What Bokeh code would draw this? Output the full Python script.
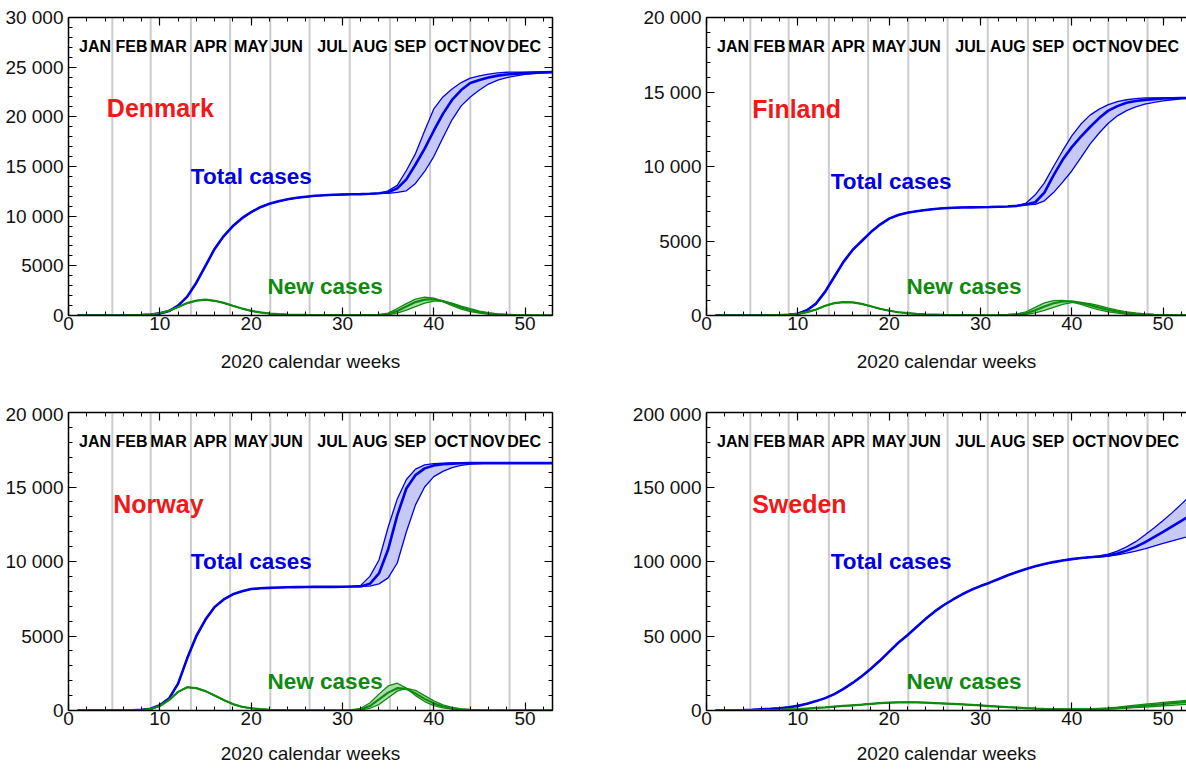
from bokeh.plotting import figure
from bokeh.layouts import column, row
from bokeh.models import (LinearAxis, Range1d, SingleIntervalTicker, Span, Label,
                          CustomJSTickFormatter, ColumnDataSource)
from bokeh.core.properties import value
from bokeh.embed import file_html
from bokeh.resources import INLINE

# ---------------- data ----------------
WEEKS = list(range(1, 54))
MONTHS = ["JAN", "FEB", "MAR", "APR", "MAY", "JUN", "JUL", "AUG", "SEP", "OCT", "NOV", "DEC"]
MONTH_LABEL_X = [2.9, 6.9, 10.95, 15.5, 20.0, 23.9, 28.9, 33.0, 37.4, 41.9, 45.9, 49.9]
MONTH_LINES = [4.8, 9.0, 13.4, 17.7, 22.1, 26.4, 30.8, 35.2, 39.6, 44.0, 48.3]

DK_TOTAL = [0, 0, 0, 0, 0, 10, 20, 50, 100, 200,
            450, 1000, 1900, 3300, 5000, 6700, 8000, 9000, 9800, 10400,
            10900, 11250, 11500, 11700, 11850, 11950, 12050, 12100, 12150, 12180,
            12200, 12220, 12250, 12300, 12400, 12800, 13700, 15200, 16800, 18600,
            20300, 21700, 22700, 23400, 23700, 23950, 24150, 24260, 24350, 24400,
            24450, 24480, 24500]
DK_TOTAL_HI = DK_TOTAL[:34] + [12550, 13100, 14600, 16300, 18600, 20800, 22000, 22800, 23450, 23900,
                               24130, 24300, 24420, 24490, 24500, 24500, 24500, 24500, 24500]
DK_TOTAL_LO = DK_TOTAL[:34] + [12300, 12400, 12550, 13300, 14500, 16000, 17900, 19700, 21100, 22000,
                               22700, 23300, 23700, 23950, 24130, 24270, 24350, 24430, 24480]
DK_NEW = [0, 0, 0, 0, 5, 10, 20, 40, 100, 250,
          480, 850, 1250, 1500, 1590, 1480, 1270, 980, 700, 460,
          310, 200, 140, 100, 70, 55, 45, 40, 35, 30,
          30, 30, 35, 50, 150, 450, 900, 1350, 1600, 1650,
          1450, 1150, 800, 550, 330, 200, 120, 70, 40, 25,
          15, 10, 5]
DK_NEW_HI = DK_NEW[:32] + [40, 80, 250, 700, 1200, 1650, 1850, 1750, 1400, 1000, 650,
                           400, 240, 140, 80, 50, 30, 20, 10, 10, 5]
DK_NEW_LO = DK_NEW[:32] + [30, 30, 80, 250, 550, 900, 1250, 1450, 1450, 1250, 950,
                           680, 450, 280, 170, 100, 60, 35, 20, 10, 5]

FI_TOTAL = [0, 0, 0, 0, 0, 0, 5, 20, 50, 120,
            350, 800, 1600, 2600, 3600, 4400, 5000, 5600, 6100, 6500,
            6750, 6900, 7000, 7080, 7150, 7200, 7230, 7250, 7260, 7270,
            7280, 7300, 7320, 7360, 7450, 7600, 8250, 9400, 10450, 11300,
            12000, 12650, 13250, 13750, 14050, 14280, 14400, 14470, 14520, 14560,
            14580, 14600, 14600]
FI_TOTAL_HI = FI_TOTAL[:34] + [7550, 8100, 8900, 10000, 11060, 12050, 12850, 13450, 13850, 14150,
                               14350, 14480, 14560, 14600, 14610, 14610, 14610, 14610, 14610]
FI_TOTAL_LO = FI_TOTAL[:34] + [7420, 7460, 7700, 8250, 8950, 9700, 10600, 11500, 12250, 12900,
                               13400, 13750, 14000, 14180, 14300, 14400, 14480, 14540, 14580]
FI_NEW = [0, 0, 0, 0, 0, 5, 10, 20, 40, 100,
          230, 400, 650, 830, 900, 880, 780, 620, 450, 320,
          220, 160, 110, 80, 60, 40, 30, 25, 20, 15,
          15, 20, 40, 80, 150, 350, 600, 820, 940, 950,
          850, 700, 530, 380, 260, 170, 110, 70, 45, 30,
          20, 15, 10]
FI_NEW_HI = FI_NEW[:32] + [50, 110, 250, 550, 850, 1000, 1020, 920, 750, 550, 380,
                           250, 160, 100, 60, 40, 25, 15, 10, 8, 5]
FI_NEW_LO = FI_NEW[:32] + [30, 50, 80, 180, 350, 550, 750, 870, 880, 800, 660,
                           500, 360, 250, 170, 110, 70, 45, 30, 20, 12]

NO_TOTAL = [0, 0, 0, 0, 0, 0, 10, 40, 120, 350,
            800, 1800, 3500, 5000, 6100, 6950, 7450, 7800, 8000, 8150,
            8200, 8230, 8250, 8270, 8280, 8290, 8300, 8300, 8300, 8310,
            8320, 8330, 8500, 9200, 10800, 13100, 14900, 15800, 16250, 16450,
            16530, 16570, 16590, 16600, 16600, 16600, 16600, 16600, 16600, 16600,
            16600, 16600, 16600]
NO_TOTAL_HI = NO_TOTAL[:31] + [8400, 9000, 10100, 12300, 14200, 15500, 16200, 16480, 16570, 16600,
                               16610, 16610, 16610, 16610, 16610, 16610, 16610, 16610, 16610, 16610,
                               16610, 16610]
NO_TOTAL_LO = NO_TOTAL[:32] + [8350, 8500, 8900, 9900, 12000, 13800, 15000, 15700, 16050, 16300,
                               16450, 16530, 16570, 16600, 16600, 16600, 16600, 16600, 16600, 16600,
                               16600]
NO_NEW = [0, 0, 0, 0, 0, 0, 10, 30, 100, 300,
          700, 1250, 1560, 1500, 1300, 1000, 700, 430, 250, 150,
          90, 50, 30, 20, 15, 10, 10, 10, 10, 15,
          25, 80, 300, 750, 1200, 1500, 1450, 1150, 780, 480,
          270, 150, 80, 40, 20, 10, 5, 5, 5, 5,
          5, 5, 5]
NO_NEW_HI = NO_NEW[:30] + [30, 150, 500, 1100, 1650, 1830, 1500, 1000, 600, 330, 170, 90,
                           45, 20, 10, 5, 5, 5, 5, 5, 5, 5, 5]
NO_NEW_LO = NO_NEW[:30] + [20, 40, 150, 400, 850, 1300, 1480, 1350, 1000, 650, 380, 210,
                           110, 55, 25, 12, 5, 5, 5, 5, 5, 5, 5]

SE_TOTAL = [0, 50, 150, 300, 500, 800, 1100, 1500, 2200, 3100,
            4500, 6300, 8300, 11000, 14500, 18500, 23000, 28000, 33500, 39500,
            45500, 50500, 56000, 61500, 66500, 70800, 74500, 78000, 81000, 83500,
            85800, 88300, 90800, 93000, 95000, 96800, 98300, 99600, 100700, 101600,
            102300, 102900, 103400, 104100, 105400, 107300, 109800, 112800, 116300, 119900,
            123600, 127300, 131000]
SE_TOTAL_HI = SE_TOTAL[:42] + [103800, 105000, 107000, 109800, 113300, 117800, 122500, 127500,
                               132800, 138500, 144500]
SE_TOTAL_LO = SE_TOTAL[:42] + [103000, 103600, 104500, 105600, 106900, 108500, 110300, 112100,
                               113800, 115500, 117200]
SE_NEW = [0, 50, 100, 150, 200, 300, 350, 500, 700, 900,
          1300, 1700, 2100, 2600, 3100, 3500, 3900, 4400, 4900, 5300,
          5500, 5550, 5500, 5300, 5000, 4700, 4400, 4100, 3800, 3400,
          3000, 2600, 2200, 1900, 1600, 1350, 1150, 1000, 900, 850,
          850, 900, 1100, 1300, 1600, 2100, 2700, 3200, 3800, 4300,
          4900, 5400, 5900]
SE_NEW_HI = SE_NEW[:42] + [1200, 1700, 2300, 3000, 3600, 4200, 4800, 5400, 6000, 6500, 7000]
SE_NEW_LO = SE_NEW[:42] + [1000, 1100, 1300, 1600, 1900, 2300, 2700, 3100, 3500, 3900, 4300]

# label anchors (week, value): country, "Total cases", "New cases"
DK_LABELS = [(4.2, 20850), (13.4, 13990), (21.8, 2920)]
FI_LABELS = [(5.0, 13890), (13.6, 8990), (21.9, 1946)]
NO_LABELS = [(4.9, 13890), (13.4, 10000), (21.8, 1946)]
SE_LABELS = [(5.0, 138900), (13.6, 100000), (21.9, 19460)]

# ---------------- style ----------------
FONT = "Liberation Sans"
BLUE = "#0000e6"
BAND = "#c6c8f6"
GREEN = "#0f8a0f"
GREEN_BAND = "#a8dca8"
RED = "#f01818"
GRIDC = "#cccccc"

FMT = CustomJSTickFormatter(code="""
const v = Math.round(tick);
const s = String(v);
if (Math.abs(v) >= 10000) { return s.replace(/\\B(?=(\\d{3})+(?!\\d))/g, " "); }
return s;
""")
EMPTY = CustomJSTickFormatter(code="return '';")

LEFT_FW = 484
RIGHT_FW = 480
XMAX = 53


def style_axis(ax, labels=True):
    ax.axis_line_color = "black"
    ax.axis_line_width = 1.5
    ax.major_tick_in = 8
    ax.major_tick_out = 0
    ax.minor_tick_in = 4
    ax.minor_tick_out = 0
    ax.major_tick_line_color = "black"
    ax.minor_tick_line_color = "black"
    ax.major_tick_line_width = 1.2
    ax.minor_tick_line_width = 1
    if labels:
        ax.major_label_text_font = FONT
        ax.major_label_text_font_size = "19px"
        ax.major_label_text_color = "#111111"
    else:
        ax.major_label_text_font_size = "0px"
        ax.major_label_standoff = 0
        ax.formatter = EMPTY


def panel(name, ymax, ystep, tot, tot_lo, tot_hi, new, new_lo, new_hi, labs,
          right_panel, bottom_row):
    fw = RIGHT_FW if right_panel else LEFT_FW
    xmax = XMAX * fw / LEFT_FW
    p = figure(frame_width=fw, frame_height=298,
               x_range=Range1d(0, xmax), y_range=Range1d(0, ymax),
               output_backend="svg", toolbar_location=None,
               min_border_left=98 if right_panel else 68,
               min_border_right=0 if right_panel else 56,
               min_border_top=9 if bottom_row else 17,
               min_border_bottom=59 if bottom_row else 88)
    p.outline_line_color = None
    p.grid.visible = False
    p.background_fill_color = "white"
    p.border_fill_color = "white"

    xt = SingleIntervalTicker(interval=10, num_minor_ticks=5)
    yt = SingleIntervalTicker(interval=ystep, num_minor_ticks=5)

    xa = p.below[0]
    xa.ticker = xt
    style_axis(xa)
    xa.major_label_standoff = 1
    xa.axis_label = "2020 calendar weeks"
    xa.axis_label_text_font = FONT
    xa.axis_label_text_font_size = "19px"
    xa.axis_label_text_font_style = "normal"
    xa.axis_label_text_color = "#111111"
    xa.axis_label_standoff = 15 if bottom_row else 18

    ya = p.left[0]
    ya.ticker = yt
    ya.formatter = FMT
    style_axis(ya)
    ya.major_label_standoff = 5

    top = LinearAxis(ticker=xt)
    style_axis(top, labels=False)
    p.add_layout(top, "above")
    if not right_panel:
        rt = LinearAxis(ticker=yt)
        style_axis(rt, labels=False)
        p.add_layout(rt, "right")

    for w in MONTH_LINES:
        p.add_layout(Span(location=w, dimension="height", line_color=GRIDC,
                          line_width=2, level="underlay"))

    src = ColumnDataSource(dict(x=MONTH_LABEL_X, y=[ymax * 0.904] * len(MONTHS), t=MONTHS))
    p.text(x="x", y="y", text="t", source=src, text_font=value(FONT),
           text_font_style="bold", text_font_size="16px", text_align="center",
           text_baseline="middle", text_color="black")

    # total cases
    p.varea(x=WEEKS, y1=tot_lo, y2=tot_hi, fill_color=BAND)
    p.line(WEEKS, tot_hi, line_color=BLUE, line_width=1.3)
    p.line(WEEKS, tot_lo, line_color=BLUE, line_width=1.3)
    p.line(WEEKS, tot, line_color=BLUE, line_width=2.6)
    # new cases
    p.varea(x=WEEKS, y1=new_lo, y2=new_hi, fill_color=GREEN_BAND)
    p.line(WEEKS, new_hi, line_color=GREEN, line_width=1.3)
    p.line(WEEKS, new_lo, line_color=GREEN, line_width=1.3)
    p.line(WEEKS, new, line_color=GREEN, line_width=2.2)

    texts = [(name, RED, "25px"), ("Total cases", BLUE, "22.5px"), ("New cases", GREEN, "22.5px")]
    for (x, y), (t, c, fs) in zip(labs, texts):
        p.add_layout(Label(x=x, y=y, text=t, text_color=c, text_font=FONT,
                           text_font_style="bold", text_font_size=fs,
                           text_baseline="middle", text_align="left"))
    return p


dk = panel("Denmark", 30000, 5000, DK_TOTAL, DK_TOTAL_LO, DK_TOTAL_HI,
           DK_NEW, DK_NEW_LO, DK_NEW_HI, DK_LABELS, False, False)
fi = panel("Finland", 20000, 5000, FI_TOTAL, FI_TOTAL_LO, FI_TOTAL_HI,
           FI_NEW, FI_NEW_LO, FI_NEW_HI, FI_LABELS, True, False)
no = panel("Norway", 20000, 5000, NO_TOTAL, NO_TOTAL_LO, NO_TOTAL_HI,
           NO_NEW, NO_NEW_LO, NO_NEW_HI, NO_LABELS, False, True)
se = panel("Sweden", 200000, 50000, SE_TOTAL, SE_TOTAL_LO, SE_TOTAL_HI,
           SE_NEW, SE_NEW_LO, SE_NEW_HI, SE_LABELS, True, True)

layout = column(row(dk, fi), row(no, se))
open("out.html", "w").write(file_html(layout, INLINE))
